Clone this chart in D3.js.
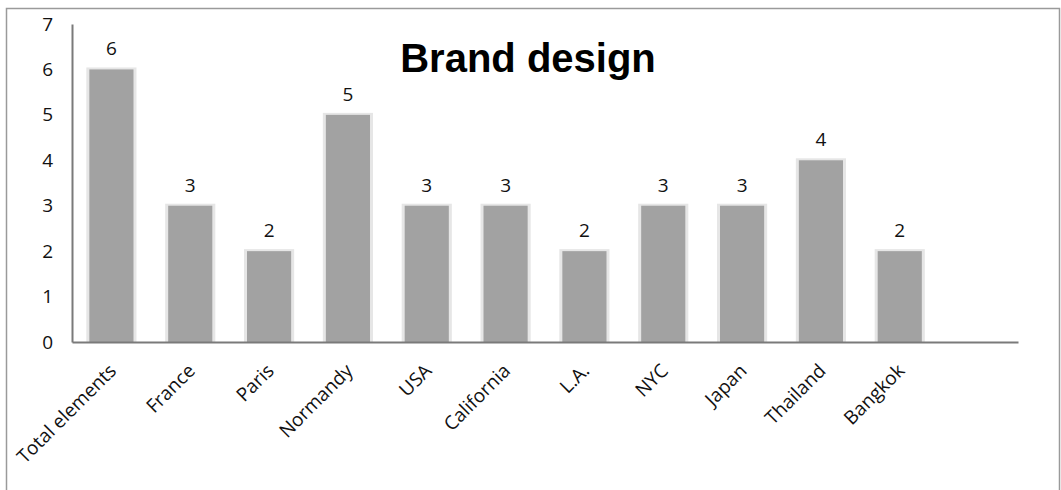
<!DOCTYPE html>
<html>
<head>
<meta charset="utf-8">
<script src="https://cdn.jsdelivr.net/npm/d3@7"></script>
<style>
  html, body { margin: 0; padding: 0; background: #fff; }
  svg { display: block; }
</style>
</head>
<body>
<svg id="chart" width="1061" height="490"></svg>
<script>
// Brand design elements per location
const categories = ["Total elements", "France", "Paris", "Normandy", "USA", "California",
                    "L.A.", "NYC", "Japan", "Thailand", "Bangkok", ""];
const values = [6, 3, 2, 5, 3, 3, 2, 3, 3, 4, 2];
const yTicks = [0, 1, 2, 3, 4, 5, 6, 7];
const title = "Brand design";

const svg = d3.select("#chart");
const W = 1061, H = 490;
const margin = { left: 72, right: 43, top: 24, bottom: 148 };
const font = "'Open Sans', sans-serif";

// outer frame
svg.append("rect")
  .attr("x", 6.5).attr("y", 8.5)
  .attr("width", 1053).attr("height", 500)
  .attr("fill", "#fff").attr("stroke", "#9a9a9a").attr("stroke-width", 1.5);

const x = d3.scaleBand()
  .domain(categories)
  .range([margin.left, W - margin.right])
  .paddingInner(0.44).paddingOuter(0.22);

const y = d3.scaleLinear()
  .domain([0, 7])
  .range([H - margin.bottom, margin.top]);

const data = values.map((v, i) => ({ cat: categories[i], v }));

// bars with a soft pale edge
const g = svg.append("g");
g.selectAll("rect.edge").data(data).join("rect")
  .attr("class", "edge")
  .attr("x", d => x(d.cat) - 3)
  .attr("y", d => y(d.v) - 2)
  .attr("width", x.bandwidth() + 6)
  .attr("height", d => y(0) - y(d.v) + 2)
  .attr("fill", "#e6e6e6");
g.selectAll("rect.bar").data(data).join("rect")
  .attr("class", "bar")
  .attr("x", d => x(d.cat))
  .attr("y", d => y(d.v))
  .attr("width", x.bandwidth())
  .attr("height", d => y(0) - y(d.v))
  .attr("fill", "#a2a2a2");

// value labels
g.selectAll("text.val").data(data).join("text")
  .attr("class", "val")
  .attr("x", d => x(d.cat) + x.bandwidth() / 2)
  .attr("y", d => y(d.v) - 14)
  .attr("text-anchor", "middle")
  .attr("font-family", font)
  .attr("font-size", 19)
  .attr("fill", "#111")
  .text(d => d.v);

// y axis
const yAxis = svg.append("g")
  .attr("transform", `translate(${margin.left},0)`)
  .call(d3.axisLeft(y).tickValues(yTicks).tickFormat(d3.format("d")).tickSize(0).tickPadding(19));
yAxis.select(".domain").attr("stroke", "#7a7a7a").attr("stroke-width", 2);
yAxis.selectAll("text")
  .attr("font-family", font)
  .attr("font-size", 19)
  .attr("fill", "#111");

// x axis
const xAxis = svg.append("g")
  .attr("transform", `translate(0,${y(0)})`)
  .call(d3.axisBottom(x).tickSize(0).tickPadding(0));
xAxis.select(".domain").attr("stroke", "#7a7a7a").attr("stroke-width", 2);
xAxis.selectAll("text")
  .attr("font-family", font)
  .attr("font-size", 19)
  .attr("fill", "#111")
  .attr("text-anchor", "end")
  .attr("dy", 0)
  .attr("transform", "translate(6,30) rotate(-45)");

// title
svg.append("text")
  .attr("x", 528).attr("y", 72)
  .attr("text-anchor", "middle")
  .attr("font-family", "'Liberation Sans', Arial, sans-serif")
  .attr("font-weight", "bold")
  .attr("font-size", 40)
  .attr("fill", "#000")
  .text(title);
</script>
</body>
</html>
